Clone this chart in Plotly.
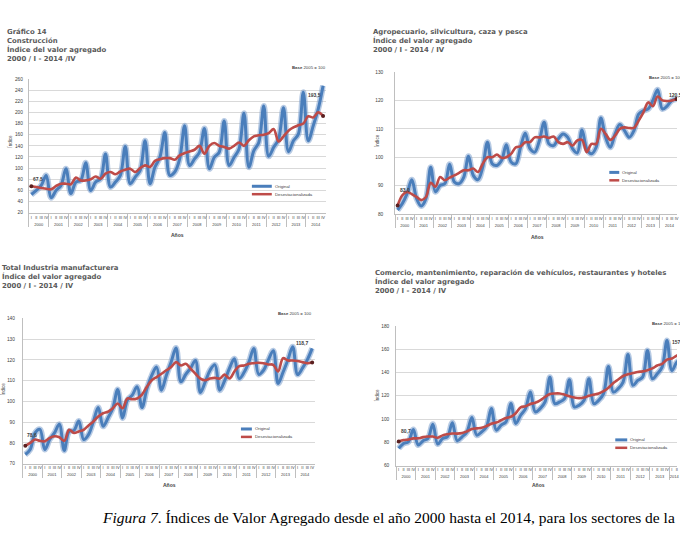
import plotly.graph_objects as go

# ---------------- data ----------------
YEARS = ["2000", "2001", "2002", "2003", "2004", "2005", "2006", "2007",
         "2008", "2009", "2010", "2011", "2012", "2013", "2014"]
QUARTERS = ["I", "II", "III", "IV"]

CONS_ORIG = [52.6, 60, 69, 87, 46.7, 60, 69, 98.8, 54.4, 75, 78, 109.5,
             60, 75, 81, 125.5, 66, 75, 87, 139, 72, 84, 96, 149,
             72, 102, 119.5, 164, 87, 93, 116.6, 176, 104.7, 116.6, 128.5, 171,
             98.8, 119.5, 128.5, 184.7, 104.7, 119.5, 134.4, 198.4, 101.8, 131.4, 146.2, 211.4,
             121.3, 137.3, 152, 208.4, 129.6, 149.2, 161, 236.3, 149.2, 175.9, 205.5, 248]
CONS_SA = [67.5, 66, 64.5, 63, 62, 68, 72, 72, 71, 83, 78, 78,
           80, 85, 81, 90, 93, 89, 94, 97, 99, 93, 100, 105,
           102, 113, 116, 118, 118, 115, 123, 127, 130, 133, 140, 126,
           140, 145, 140, 138, 135, 140, 146, 140, 150, 157, 159, 160,
           163, 170, 148, 157, 167, 173, 177, 180, 193, 191, 200, 193.5]

AGRO_ORIG = [81.4, 83.7, 87.2, 92.1, 85.5, 82.8, 85.5, 96.5, 87.8, 90.1, 90.7, 97.5,
             91.3, 90.7, 93, 100.3, 93.6, 92.1, 96.5, 105.3, 97.7, 97.1, 98.9, 104.4,
             98.3, 97.7, 103.5, 108.4, 103, 101.8, 105.9, 112.3, 104.7, 104.1, 106.5, 108.2,
             107, 103, 101.5, 109.6, 103, 101.2, 103.5, 113.8, 107, 103.5, 108.2, 111.5,
             109.4, 107, 109.4, 115.2, 116.4, 117, 120, 123.8, 117, 118, 120, 120.5]
AGRO_SA = [83.0, 86.6, 87.8, 87, 86, 84.9, 86, 91, 89.6, 93, 91.9, 92.8,
           93.6, 94.5, 95.4, 95.4, 96, 94.8, 97.7, 100, 100, 100.9, 99.8, 100,
           101.2, 103.5, 103.8, 105.3, 105.3, 107, 107, 107.3, 106.8, 107.3, 105.3, 104.7,
           105.3, 104.1, 105.9, 106.1, 101.8, 104.7, 104.7, 110, 108.2, 106.1, 107.6, 110,
           110.5, 110.3, 110.3, 112.9, 115.8, 119.3, 118, 121.4, 120, 119.8, 120, 120.5]

IND_ORIG = [74.4, 76.8, 84.8, 86.5, 76.8, 81.6, 84.8, 89, 76.3, 85.5, 86, 90.6,
            81.6, 84, 90.3, 97, 88, 92, 96.7, 105.7, 92, 100.6, 103, 107,
            97, 106, 112.5, 116.5, 105.4, 112.5, 119, 125.7, 109.4, 113, 116, 119.7,
            104.3, 109.4, 115, 117.6, 105.4, 110, 116, 120.5, 111, 114, 119, 125.5,
            113, 115, 120, 124.4, 108.6, 114, 120, 126.3, 112.9, 116, 120, 125.5]
IND_SA = [78.6, 80, 81.6, 81, 80.8, 82.4, 83.2, 82.7, 81, 86.3, 84.8, 85.5,
          86.3, 88.4, 90.3, 92.7, 94.3, 95, 96.7, 99, 96.7, 101.4, 101, 101.4,
          103.3, 107, 110.2, 111.7, 113.3, 115, 116.5, 118.9, 117.3, 118.1, 115.7, 113.3,
          111, 110.2, 111, 111.3, 111, 112.9, 111, 114.4, 117, 117.3, 118.1, 118.4,
          118.6, 118.4, 117.8, 117.6, 114.4, 120.8, 119.7, 119.7, 119.4, 118.9, 118.4, 118.7]

COM_ORIG = [74.8, 79, 80.5, 91, 77.7, 81.4, 83.4, 95.6, 78.5, 83.4, 84.8, 96.8,
            81.4, 84.8, 89, 101.3, 86.2, 89, 93.3, 109, 90.5, 94.8, 97.6, 113.3,
            96.2, 103.3, 109, 123.2, 106.2, 109, 114.7, 136, 113.3, 114.7, 117.5, 133.8,
            110.4, 111.9, 116.1, 134.6, 113.3, 116.1, 121.8, 145.2, 123.2, 126.1, 131.8, 155.4,
            129, 133.2, 136, 158.9, 134.6, 138.9, 144.6, 167.4, 141.8, 148.9, 152, 168]
COM_SA = [80.7, 82, 82.5, 83.4, 83.5, 84.5, 85, 85, 84, 86, 87, 87.6,
          87.5, 88, 89.5, 91.5, 92, 92.5, 94, 96, 97, 99, 101, 102,
          105, 110, 111, 113, 114, 116, 119, 121.5, 122, 122, 121, 119.5,
          118.5, 118, 118.5, 120, 121, 122, 124, 127, 131, 134, 137, 138.5,
          139.5, 140.5, 141, 142, 143.5, 146, 147.5, 151, 152, 154.5, 156, 157.7]

TITLES = [
    "Gráfico 14<br>Construcción<br>Índice del valor agregado<br>2000 / I - 2014 /IV",
    "Agropecuario, silvicultura, caza y pesca<br>Índice del valor agregado<br>2000 / I - 2014 / IV",
    "Total Industria manufacturera<br>Índice del valor agregado<br>2000 / I - 2014 / IV",
    "Comercio, mantenimiento, reparación de vehículos, restaurantes y hoteles<br>Índice del valor agregado<br>2000 / I - 2014 / IV",
]
SERIES_NAMES = ["Original", "Desestacionalizada"]
CAPTION = "<i>Figura 7</i>. Índices de Valor Agregado desde el año 2000 hasta el 2014, para los sectores de la"

# ---------------- helpers ----------------
W, H = 680, 536
def px(x):
    return x / W
def py(y):
    return 1 - y / H

cat_year = [y for y in YEARS for _ in QUARTERS]
cat_q = [q for _ in YEARS for q in QUARTERS]
X = [cat_year, cat_q]

BLUE = "#4A7EBB"
BLUE_HALO = "rgba(125,160,205,0.55)"
RED = "#BE4B48"
GRID = "#D9D9D9"
AX = "#BFBFBF"
TXT = "#595959"
TICK = "#404040"

panels = [
    dict(orig=CONS_ORIG, sa=CONS_SA, xd=(29, 327), yd=(77.7, 212.7), yr=(20, 260), dt=20,
         xr=(-0.5, 59.5), title_xy=(5, 24), base=(329, 66, "right"),
         ind=(10, 140), anos=(178, 235), leg=(253, 273, 186, 194), stand=4,
         lab0=(0, 8), labL=(55.6, 231)),
    dict(orig=AGRO_ORIG, sa=AGRO_SA, xd=(397, 680), yd=(70.7, 214), yr=(80, 130), dt=10,
         xr=(-0.5, 59.1), title_xy=(373, 24), base=(650, 76, "left"),
         ind=(378, 140), anos=(540, 237), leg=(612, 622, 172, 180), stand=10,
         lab0=(0, 16), labL=(57.0, 122.0)),
    dict(orig=IND_ORIG, sa=IND_SA, xd=(23, 316), yd=(319.3, 466), yr=(70, 140), dt=10,
         xr=(-0.5, 59.5), title_xy=(0, 262), base=(315, 314, "right"),
         ind=(3, 390), anos=(170, 488), leg=(242, 253, 431, 439), stand=6,
         lab0=(0, 12), labL=(55.3, 128.0)),
    dict(orig=COM_ORIG, sa=COM_SA, xd=(398, 680), yd=(327, 468), yr=(60, 180), dt=20,
         xr=(-0.5, 57.05), title_xy=(375, 267), base=(653, 325, "left"),
         ind=(379, 397), anos=(541, 488), leg=(618, 630, 442, 450), stand=5,
         lab0=(0, 12), labL=(55.7, 166.0)),
]

fig = go.Figure()
annotations = []
shapes = []
layout_axes = {}

def fmt(v):
    return f"{v:.1f}".replace(".", ",")

for k, p in enumerate(panels, start=1):
    xa = "x" if k == 1 else f"x{k}"
    ya = "y" if k == 1 else f"y{k}"
    xname = "xaxis" if k == 1 else f"xaxis{k}"
    yname = "yaxis" if k == 1 else f"yaxis{k}"

    fig.add_trace(go.Scatter(x=X, y=p["orig"], mode="lines", xaxis=xa, yaxis=ya,
                             line=dict(color=BLUE_HALO, width=6, shape="spline", smoothing=1),
                             showlegend=False, hoverinfo="skip"))
    fig.add_trace(go.Scatter(x=X, y=p["orig"], mode="lines", xaxis=xa, yaxis=ya, name=SERIES_NAMES[0],
                             line=dict(color=BLUE, width=3, shape="spline", smoothing=1),
                             showlegend=False))
    fig.add_trace(go.Scatter(x=X, y=p["sa"], mode="lines", xaxis=xa, yaxis=ya, name=SERIES_NAMES[1],
                             line=dict(color=RED, width=2.6, shape="spline", smoothing=1),
                             showlegend=False))
    fig.add_trace(go.Scatter(x=[[cat_year[0], cat_year[-1]], [cat_q[0], cat_q[-1]]],
                             y=[p["sa"][0], p["sa"][-1]], mode="markers", xaxis=xa, yaxis=ya,
                             marker=dict(color="#5a2020", size=4), showlegend=False))

    layout_axes[xname] = dict(
        type="multicategory", domain=[px(p["xd"][0]), px(p["xd"][1])], anchor=ya,
        range=list(p["xr"]), showgrid=False, showline=True, linecolor=AX, linewidth=1,
        ticks="", tickfont=dict(size=4.0, color=TICK, family="Liberation Sans"),
        nticks=200, dtick=1,
        showdividers=True, dividercolor=AX, dividerwidth=1, tickangle=0, zeroline=False)
    layout_axes[yname] = dict(
        domain=[py(p["yd"][1]), py(p["yd"][0])], anchor=xa, range=list(p["yr"]), dtick=p["dt"],
        showgrid=True, gridcolor=GRID, gridwidth=1, showline=True, linecolor=AX, linewidth=1,
        ticks="", tickfont=dict(size=4.8, color=TICK, family="Liberation Sans"),
        ticklabelstandoff=p["stand"], zeroline=False)

    # title
    annotations.append(dict(text=TITLES[k - 1], x=px(p["title_xy"][0]), y=py(p["title_xy"][1]),
                            xref="paper", yref="paper", xanchor="left", yanchor="top",
                            align="left", showarrow=False,
                            font=dict(family="DejaVu Sans", size=6.9, color=TXT, weight="bold")))
    # base
    bx, by, banchor = p["base"]
    annotations.append(dict(text="<b>Base</b> 2005 = 100", x=px(bx), y=py(by), xref="paper", yref="paper",
                            xanchor=banchor, yanchor="middle", showarrow=False,
                            font=dict(family="Liberation Sans", size=4.3, color="#404040")))
    # axis titles
    annotations.append(dict(text="Índice", x=px(p["ind"][0]), y=py(p["ind"][1]), xref="paper", yref="paper",
                            textangle=-90, showarrow=False, xanchor="center", yanchor="middle",
                            font=dict(family="Liberation Sans", size=4.6, color=TICK)))
    annotations.append(dict(text="Años", x=px(p["anos"][0]), y=py(p["anos"][1]), xref="paper", yref="paper",
                            showarrow=False, xanchor="center", yanchor="middle",
                            font=dict(family="Liberation Sans", size=5, color=TICK, weight="bold")))
    # manual legend
    lx0, lx1, ly0, ly1 = p["leg"]
    shapes.append(dict(type="line", xref="paper", yref="paper", x0=px(lx0), x1=px(lx1),
                       y0=py(ly0), y1=py(ly0), line=dict(color=BLUE, width=3)))
    shapes.append(dict(type="line", xref="paper", yref="paper", x0=px(lx0), x1=px(lx1),
                       y0=py(ly1), y1=py(ly1), line=dict(color=RED, width=2.5)))
    for name, yy in zip(SERIES_NAMES, (ly0, ly1)):
        annotations.append(dict(text=name, x=px(lx1 + 1), y=py(yy), xref="paper", yref="paper",
                                xanchor="left", yanchor="middle", showarrow=False,
                                font=dict(family="Liberation Sans", size=4.3, color="#404040")))
    # value labels
    annotations.append(dict(text=fmt(p["sa"][0]), x=0, y=p["sa"][0], xref=xa, yref=ya,
                            xanchor="left", yanchor="bottom", yshift=p["lab0"][1] - 6, xshift=0,
                            showarrow=False,
                            font=dict(family="Liberation Sans", size=5, color="#404040", weight="bold")))
    annotations.append(dict(text=fmt(p["sa"][-1]), x=p["labL"][0], y=p["labL"][1], xref=xa, yref=ya,
                            xanchor="left", yanchor="middle", showarrow=False,
                            font=dict(family="Liberation Sans", size=5, color="#404040", weight="bold")))

annotations.append(dict(text=CAPTION, x=px(100), y=py(520), xref="paper", yref="paper",
                        xanchor="left", yanchor="middle", showarrow=False,
                        font=dict(family="Liberation Serif", size=15.5, color="#000000")))

fig.update_layout(
    width=W, height=H, margin=dict(l=0, r=0, t=0, b=0),
    paper_bgcolor="white", plot_bgcolor="white",
    showlegend=False, annotations=annotations, shapes=shapes,
    **layout_axes,
)

fig.write_html("out.html")
